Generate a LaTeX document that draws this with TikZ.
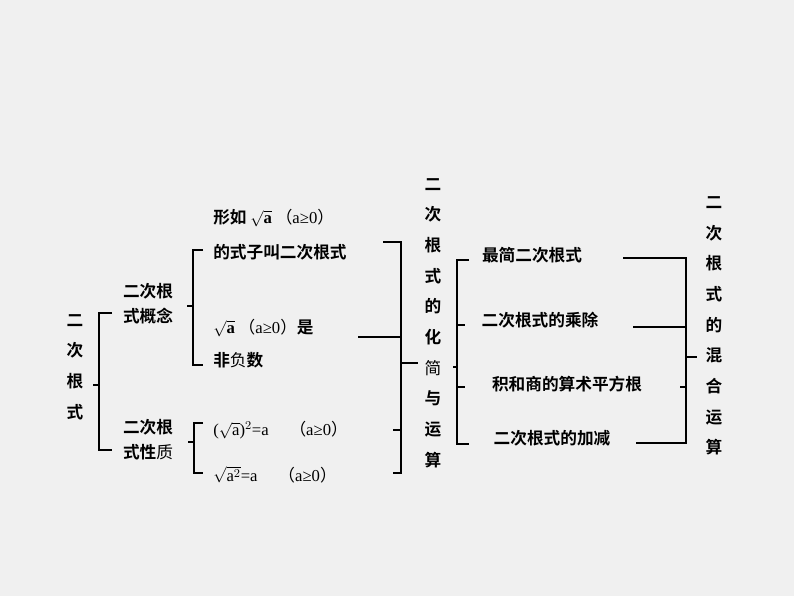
\documentclass[tikz,border=0pt]{standalone}
\usepackage{fontspec}
\setmainfont{Noto Sans CJK SC}[BoldFont={* Bold}]
\newfontfamily\mathserif{Liberation Serif}
\newfontfamily\cjkf{Noto Sans CJK SC}
\newcommand{\rt}[1]{$\sqrt{\mbox{\mathserif #1}}$}
\newcommand{\cond}{{\cjkf\mdseries （{\mathserif a≥0}）}}
\tikzset{
  txt/.style={font=\bfseries\fontsize{12.5}{14}\selectfont, inner sep=0pt},
  vtxt/.style={txt, align=center},
  brk/.style={line width=0.9pt}
}
\begin{document}
\begin{tikzpicture}[x=0.75pt,y=-0.75pt]
  \fill[fill={rgb,255:red,240;green,240;blue,240}] (0,0) rectangle (794,596);

  % main topic
  \node[vtxt] (root) at (75,367) {二\\[9pt]次\\[9pt]根\\[9pt]式};
  \node[txt] (gn) at (148,306) {\begin{tabular}{@{}l@{}}二次根\\[4pt]式概念\end{tabular}};
  \node[txt] (xz) at (148,442) {\begin{tabular}{@{}l@{}}二次根\\[4pt]式性{\mdseries 质}\end{tabular}};
  \draw[brk] (93,385) -- (99,385);
  \draw[brk] (112,313) -| (99,450) -- (112,450);

  % concept
  \node[txt, anchor=west] (d1) at (213,218) {形如 \rt{a} \cond};
  \node[txt, anchor=west] (d2) at (213,252) {的式子叫二次根式};
  \node[txt, anchor=west] (d3) at (213,328) {\rt{a} \cond 是};
  \node[txt, anchor=west] (d4) at (213,360) {非{\mdseries 负}数};
  \draw[brk] (187,306) -- (193,306);
  \draw[brk] (203,250) -| (193,365) -- (203,365);

  % property
  \node[txt, anchor=west] (p1) at (213,430) {\mathserif\mdseries ($\sqrt{\mbox{a}}$)$^2$=a \quad \cond};
  \node[txt, anchor=west] (p2) at (213,475) {\mathserif\mdseries $\sqrt{\mbox{a}^2}$=a \quad \cond};
  \draw[brk] (188,442) -- (194,442);
  \draw[brk] (203,423) -| (194,473) -- (203,473);

  % joint bracket
  \draw[brk] (383,242) -| (401,473) -- (393,473);
  \draw[brk] (358,337) -- (401,337);
  \draw[brk] (393,430) -- (401,430);
  \draw[brk] (401,363) -- (418,363);

  \node[vtxt] (hj) at (433,323) {二\\[9pt]次\\[9pt]根\\[9pt]式\\[9pt]的\\[9pt]化\\[9pt]{\mdseries 简}\\[9pt]与\\[9pt]运\\[9pt]算};

  % operations
  \draw[brk] (453,367) -- (457,367);
  \draw[brk] (469,260) -| (457,444) -- (469,444);
  \draw[brk] (457,325) -- (465,325);
  \draw[brk] (457,387) -- (465,387);
  \node[txt] (o1) at (532,255) {最简二次根式};
  \node[txt] (o2) at (540,320) {二次根式的乘除};
  \node[txt] (o3) at (567,384) {积和商的算术平方根};
  \node[txt] (o4) at (552,438) {二次根式的加减};

  % mixed
  \draw[brk] (623,258) -| (686,443) -- (636,443);
  \draw[brk] (633,327) -- (686,327);
  \draw[brk] (680,387) -- (686,387);
  \draw[brk] (686,357) -- (697,357);
  \node[vtxt] (hh) at (714,326) {二\\[9pt]次\\[9pt]根\\[9pt]式\\[9pt]的\\[9pt]混\\[9pt]合\\[9pt]运\\[9pt]算};
\end{tikzpicture}
\end{document}
